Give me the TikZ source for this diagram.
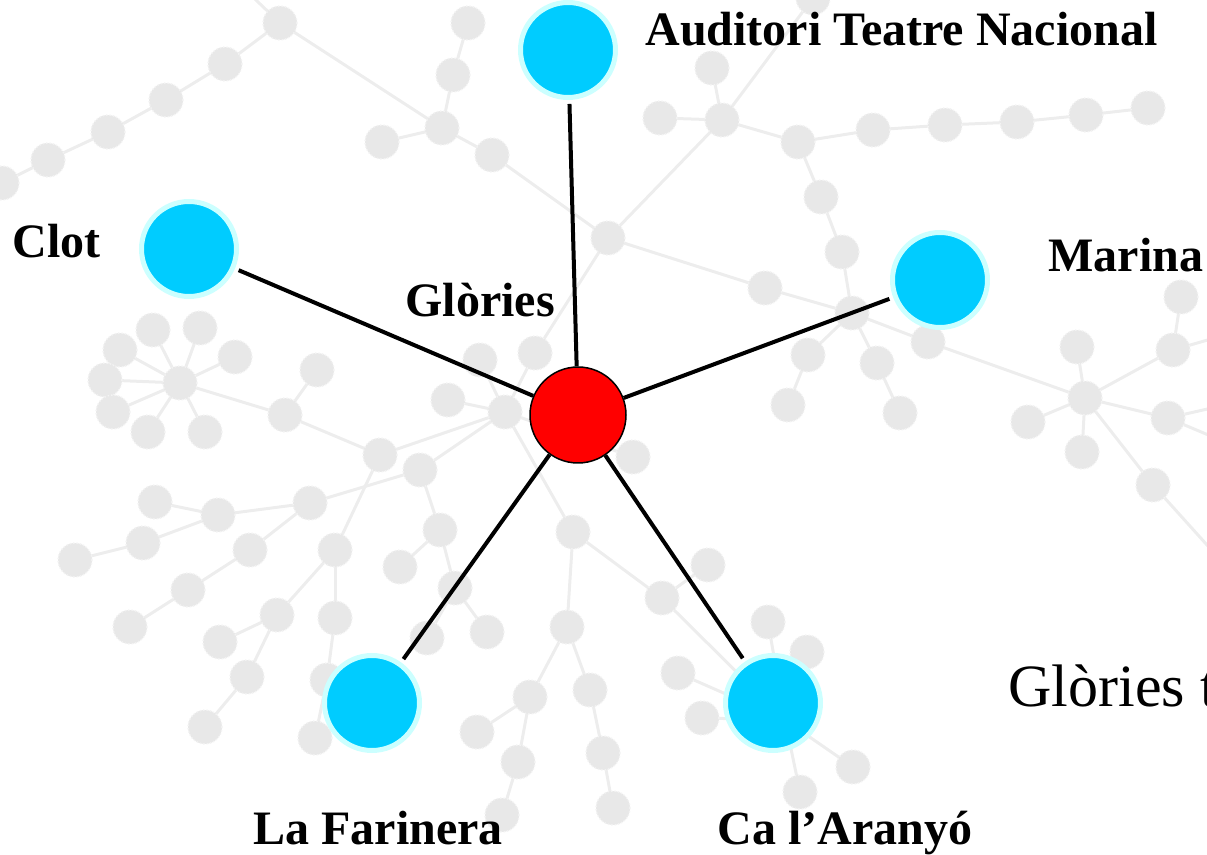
\documentclass[tikz,border=0pt]{standalone}
\usepackage{fontspec}
\setmainfont{Liberation Serif}
\usepackage{xcolor}
\usetikzlibrary{positioning}
\definecolor{stationcyan}{HTML}{00CCFF}
\definecolor{stationring}{HTML}{CCFFFF}
\definecolor{bgfill}{HTML}{E8E8E8}
\definecolor{bgring}{HTML}{F3F3F3}
\definecolor{bgedge}{HTML}{EDEDED}
\tikzset{
  bgdot/.style={circle,minimum size=17pt,inner sep=0pt,fill=bgfill,draw=bgring,densely dotted,line width=0.7pt},
  bgline/.style={draw=bgedge,line width=1.5pt},
  station/.style={circle,minimum size=47.5pt,inner sep=0pt,fill=stationcyan,draw=stationring,line width=2.5pt},
  hub/.style={circle,minimum size=48pt,inner sep=0pt,fill=red,draw=black,line width=0.75pt},
  link/.style={draw=black,line width=2pt,shorten >=2pt},
  lbl/.style={font=\bfseries\fontsize{24}{29}\selectfont,inner sep=0pt}
}
\begin{document}
\begin{tikzpicture}[x=0.5pt,y=-0.5pt]
\useasboundingbox (0,0) rectangle (1207,855);
% faint network behind the stations
\foreach \n/\x/\y in {a1/2/183,a2/48/160,a3/108/132,a4/166/100,a5/225/64,a6/280/23,a7/235/-20,
  a8/382/142,a9/442/128,a10/453/75,a11/468/23,a12/492/155,a13/608/238,a14/660/118,a15/712/68,
  a16/722/120,a17/813/-2,a18/798/142,a19/873/130,a20/945/125,a21/1017/122,a22/1086/115,a23/1148/108,
  a24/821/197,a25/842/252,a26/852/313,a27/765/288,a28/808/355,a29/788/405,a30/877/363,a31/900/413,
  a32/928/342,a33/1085/398,a34/1077/347,a35/1028/422,a36/1082/452,a37/1168/418,a38/1173/350,
  a39/1181/297,a40/1153/485,r1/1225/405,r2/1225/442,r3/1225/335,r4/1225/565,
  s0/180/383,s1/153/330,s2/200/328,s3/120/350,s4/235/357,s5/105/380,s6/113/412,s7/148/432,s8/205/432,
  c1/285/415,c2/317/370,c3/380/455,c4/420/470,c5/480/360,c6/448/400,h/505/412,c7/535/353,
  c8/310/503,c9/218/515,c10/155/502,c11/143/543,c12/75/560,c13/250/550,c14/188/590,c15/130/627,
  c16/335/550,c17/277/615,c18/220/642,c19/335/618,c20/247/677,c21/205/727,c22/327/680,c23/315/738,
  c24/440/530,c25/400/567,c26/455/588,c27/487/632,c28/427/638,
  d1/573/532,d2/567/627,d3/530/697,d4/477/732,d5/518/762,d6/502/815,d7/590/690,d8/603/753,d9/613/808,
  d10/662/598,d11/708/565,d12/633/457,d13/768/622,d14/678/673,d15/702/718,d16/807/652,d17/853/767,
  d18/800/792,d19/785/720}
  \coordinate (\n) at (\x,\y);
\foreach \u/\v in {a7/a6,a6/a5,a5/a4,a4/a3,a3/a2,a2/a1,a6/a9,a9/a8,a9/a10,a10/a11,a9/a12,a12/a13,
  a13/a16,a16/a14,a16/a15,a16/a17,a16/a18,a18/a19,a19/a20,a20/a21,a21/a22,a22/a23,a18/a24,a24/a25,
  a25/a26,a13/a27,a27/a26,a26/a28,a28/a29,a26/a30,a30/a31,a26/a32,a32/a33,a33/a34,a33/a35,a33/a36,
  a33/a37,a37/r1,a37/r2,a33/a38,a38/a39,a38/r3,a33/a40,a40/r4,
  s0/s1,s0/s2,s0/s3,s0/s4,s0/s5,s0/s6,s0/s7,s0/s8,s0/c1,c1/c2,c1/c3,c3/h,c4/h,c5/h,c6/h,c7/h,a13/c7,
  h/d1,h/d12,c3/c16,c16/c17,c17/c18,c16/c19,c17/c20,c20/c21,c19/c22,c22/c23,
  c4/c8,c8/c9,c9/c10,c9/c11,c11/c12,c8/c13,c13/c14,c14/c15,c4/c24,c24/c25,c24/c26,c26/c27,c26/c28,
  d1/d2,d2/d3,d3/d4,d3/d5,d5/d6,d2/d7,d7/d8,d8/d9,d1/d10,d10/d11,d10/d19,d14/d19,d15/d19,d13/d19,
  d16/d19,d17/d19,d18/d19}
  \draw[bgline] (\u) -- (\v);
\foreach \n in {a1,a2,a3,a4,a5,a6,a8,a9,a10,a11,a12,a13,a14,a15,a16,a17,a18,a19,a20,a21,a22,a23,
  a24,a25,a26,a27,a28,a29,a30,a31,a32,a33,a34,a35,a36,a37,a38,a39,a40,
  s0,s1,s2,s3,s4,s5,s6,s7,s8,c1,c2,c3,c4,c5,c6,h,c7,c8,c9,c10,c11,c12,c13,c14,c15,c16,c17,c18,
  c19,c20,c21,c22,c23,c24,c25,c26,c27,c28,d1,d2,d3,d4,d5,d6,d7,d8,d9,d10,d11,d12,d13,d14,d15,
  d16,d17,d18,d19}
  \node[bgdot] (\n-dot) at (\n) {};
% stations
\node[hub] (glories) at (578,415) {};
\node[station] (auditori) at (568,50) {};
\node[station] (clot) at (189,249) {};
\node[station] (marina) at (940,280) {};
\node[station] (farinera) at (372,703) {};
\node[station] (aranyo) at (773,703) {};
\foreach \s in {auditori,clot,marina,farinera,aranyo}
  \draw[link] (glories) -- (\s);
% labels
\node[lbl,anchor=base west] (auditori-lbl) at (645,46) {Auditori Teatre Nacional};
\node[lbl,anchor=base west] (clot-lbl) at (12,258) {Clot};
\node[lbl,anchor=base west] (marina-lbl) at (1048,272) {Marina};
\node[lbl,anchor=base west] (glories-lbl) at (405,317) {Glòries};
\node[lbl,anchor=base west] (farinera-lbl) at (253,845) {La Farinera};
\node[lbl,anchor=base west] (aranyo-lbl) at (717,845) {Ca l’Aranyó};
\node[anchor=base west,inner sep=0pt,font=\fontsize{30}{36}\selectfont] (caption) at (1008,707) {Glòries t};
\end{tikzpicture}
\end{document}
